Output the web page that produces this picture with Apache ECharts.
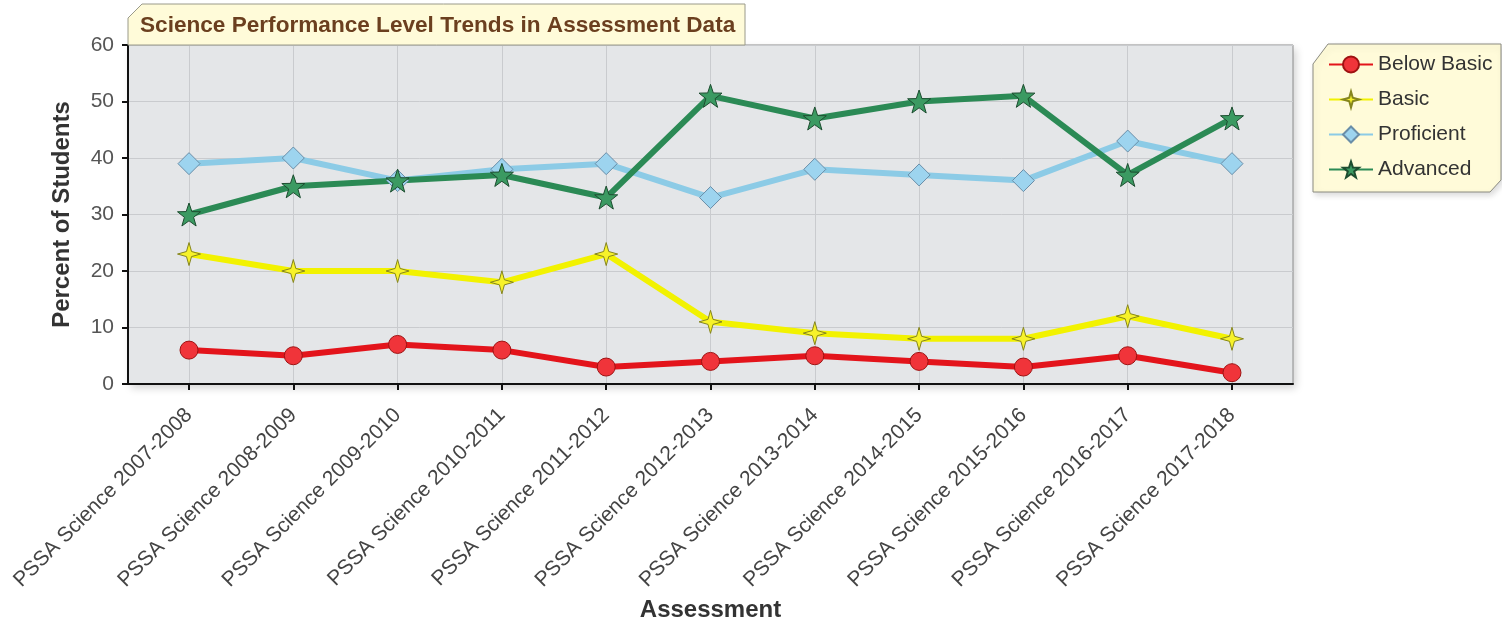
<!DOCTYPE html>
<html>
<head>
<meta charset="utf-8">
<title>Science Performance Level Trends</title>
<script src="https://cdn.jsdelivr.net/npm/echarts@6/dist/echarts.min.js"></script>
<style>
  html, body { margin: 0; padding: 0; background: #fff; }
  #chart { width: 1502px; height: 622px; }
</style>
</head>
<body>
<div id="chart"></div>
<script>
// data
var categories = [
    'PSSA Science 2007-2008', 'PSSA Science 2008-2009', 'PSSA Science 2009-2010',
    'PSSA Science 2010-2011', 'PSSA Science 2011-2012', 'PSSA Science 2012-2013',
    'PSSA Science 2013-2014', 'PSSA Science 2014-2015', 'PSSA Science 2015-2016',
    'PSSA Science 2016-2017', 'PSSA Science 2017-2018'
];
var belowBasic = [6, 5, 7, 6, 3, 4, 5, 4, 3, 5, 2];
var basic      = [23, 20, 20, 18, 23, 11, 9, 8, 8, 12, 8];
var proficient = [39, 40, 36, 38, 39, 33, 38, 37, 36, 43, 39];
var advanced   = [30, 35, 36, 37, 33, 51, 47, 50, 51, 37, 47];
var yTicks = [0, 10, 20, 30, 40, 50, 60];

var idx = categories.map(function (c, i) { return i; });
function pairs(arr) {
    return arr.map(function (v, i) { return [i, v]; });
}

var sparkle = 'path://M0,-10 L2.2,-2.2 L10,0 L2.2,2.2 L0,10 L-2.2,2.2 L-10,0 L-2.2,-2.2 Z';
var star5 = 'path://M0,-10 L2.35,-3.24 L9.51,-3.09 L3.8,1.24 L5.88,8.09 L0,4 L-5.88,8.09 L-3.8,1.24 L-9.51,-3.09 L-2.35,-3.24 Z';

var myChart = echarts.init(document.getElementById('chart'));

var option = {
    animation: false,
    textStyle: { fontFamily: 'Liberation Sans, Arial, sans-serif' },
    title: {
        text: 'Science Performance Level Trends in Assessment Data',
        left: 135,
        top: 9,
        textStyle: { fontSize: 22.6, fontWeight: 'bold', color: '#6b3f1f' }
    },
    legend: {
        orient: 'vertical',
        left: 1323,
        top: 49,
        itemWidth: 44,
        itemHeight: 20,
        itemGap: 14,
        textStyle: { fontSize: 21, color: '#333' },
        data: ['Below Basic', 'Basic', 'Proficient', 'Advanced']
    },
    graphic: [
        {   // shadow behind plot
            type: 'rect', z: -10,
            shape: { x: 128, y: 45, width: 1165, height: 339 },
            style: { fill: '#e4e6e8', shadowBlur: 8, shadowOffsetX: 3, shadowOffsetY: 4, shadowColor: 'rgba(0,0,0,0.18)' }
        },
        {
            type: 'polygon', z: 1,
            shape: { points: [[128, 18], [142, 4], [745, 4], [745, 45], [128, 45]] },
            style: { fill: '#fffbd9', stroke: '#9a9a8a', lineWidth: 1 }
        },
        {
            type: 'polygon', z: 1,
            shape: { points: [[1313, 64], [1328, 44], [1501, 44], [1501, 180], [1490, 192], [1313, 192]] },
            style: { fill: '#fffbd9', stroke: '#8a8a80', lineWidth: 1,
                     shadowBlur: 6, shadowOffsetX: 2, shadowOffsetY: 3, shadowColor: 'rgba(0,0,0,0.15)' }
        }
    ],
    grid: {
        left: 128,
        right: 209,
        top: 45,
        bottom: 238,
        outerBoundsMode: 'none',
        show: true,
        backgroundColor: '#e4e6e8',
        borderColor: '#8c8c8c',
        borderWidth: 1
    },
    xAxis: {
        type: 'value',
        min: -0.585,
        max: 10.585,
        name: 'Assessment',
        nameLocation: 'middle',
        nameGap: 212,
        nameTextStyle: { fontSize: 24, fontWeight: 'bold', color: '#333' },
        axisLine: { onZero: false, lineStyle: { color: '#111', width: 2 } },
        axisTick: { show: true, length: 6, customValues: idx, lineStyle: { color: '#111', width: 2 } },
        axisLabel: {
            customValues: idx,
            rotate: 45,
            fontSize: 21,
            color: '#444',
            margin: 28,
            formatter: function (v) { return categories[Math.round(v)]; }
        },
        splitLine: { show: true, lineStyle: { color: '#c9cbce', width: 1 } }
    },
    yAxis: {
        type: 'value',
        min: 0,
        max: 60,
        interval: 10,
        name: 'Percent of Students',
        nameLocation: 'middle',
        nameGap: 54,
        nameTextStyle: { fontSize: 24, fontWeight: 'bold', color: '#333' },
        axisLine: { show: true, onZero: false, lineStyle: { color: '#111', width: 2 } },
        axisTick: { show: true, length: 6, lineStyle: { color: '#111', width: 2 } },
        axisLabel: { fontSize: 21, color: '#555', margin: 14,
                     formatter: function (v) { return yTicks.indexOf(v) >= 0 ? String(v) : ''; } },
        splitLine: { show: true, lineStyle: { color: '#c9cbce', width: 1 } }
    },
    series: [
        {
            name: 'Below Basic', type: 'line', data: pairs(belowBasic),
            symbol: 'circle', symbolSize: 18,
            lineStyle: { color: '#e3141b', width: 6 },
            itemStyle: { color: '#f0343a', borderColor: '#9e1212', borderWidth: 1 }
        },
        {
            name: 'Basic', type: 'line', data: pairs(basic),
            symbol: sparkle, symbolSize: 23,
            lineStyle: { color: '#f2f200', width: 6 },
            itemStyle: { color: '#f7f22a', borderColor: '#85851e', borderWidth: 1 }
        },
        {
            name: 'Proficient', type: 'line', data: pairs(proficient),
            symbol: 'diamond', symbolSize: 22,
            lineStyle: { color: '#8ccbe6', width: 6 },
            itemStyle: { color: '#9dd4ef', borderColor: '#6a8ea8', borderWidth: 1 }
        },
        {
            name: 'Advanced', type: 'line', data: pairs(advanced),
            symbol: star5, symbolSize: 23,
            lineStyle: { color: '#2b8a55', width: 6 },
            itemStyle: { color: '#3b9a62', borderColor: '#1d4d30', borderWidth: 1 }
        }
    ]
};

myChart.setOption(option);
</script>
</body>
</html>
